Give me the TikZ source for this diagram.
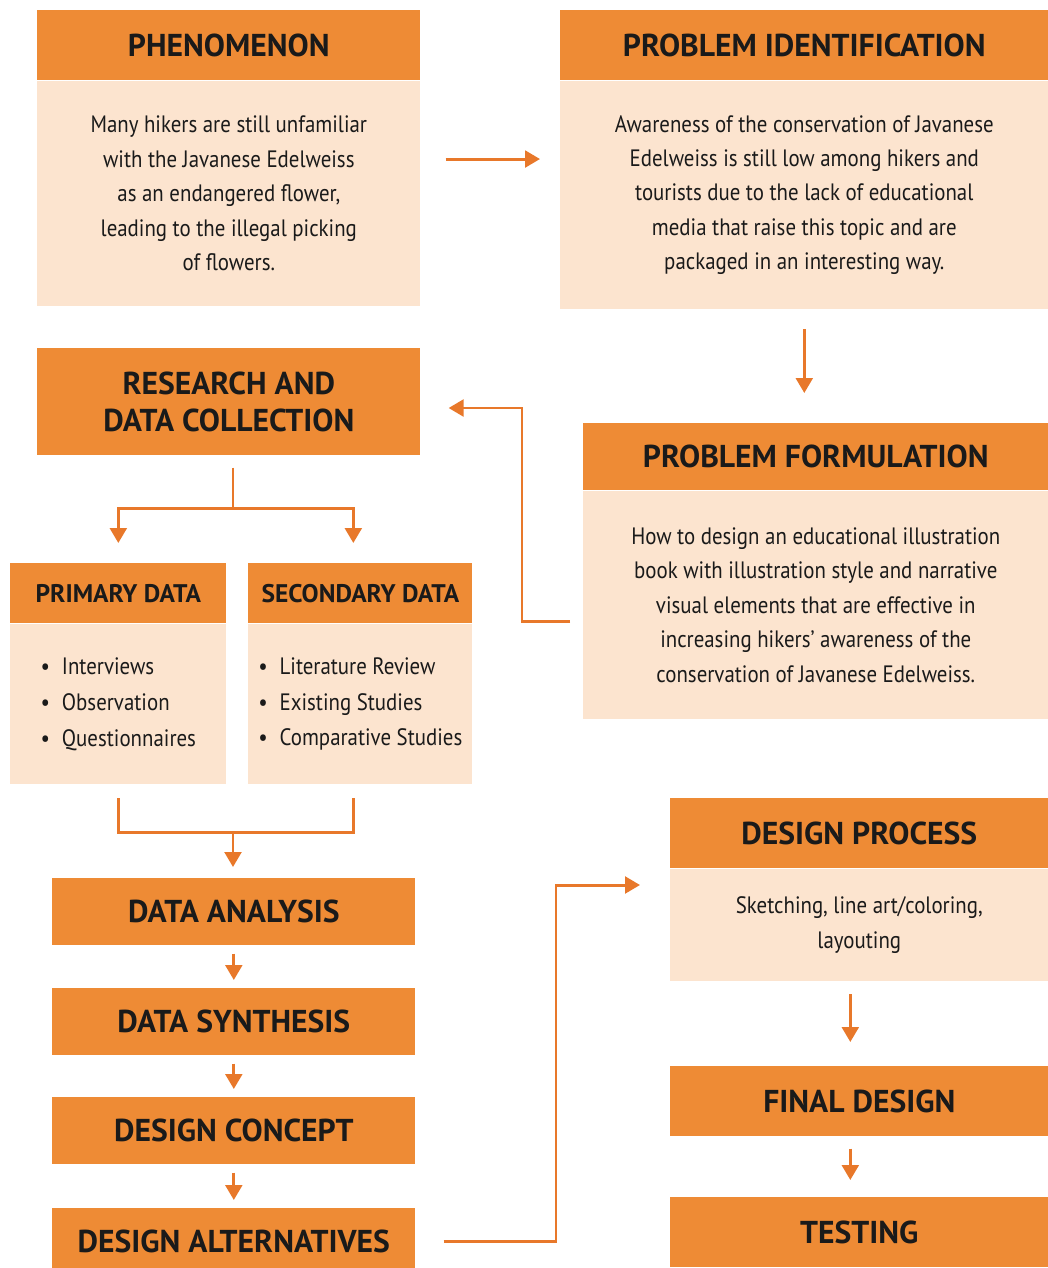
\documentclass[tikz,border=0pt]{standalone}
\usepackage{fontspec}
\setmainfont{PT Sans}
\newfontfamily\narrowsans{PT Sans}[FakeStretch=0.88]
\usetikzlibrary{arrows.meta,positioning}
\definecolor{hdrorange}{HTML}{EE8B35}
\definecolor{bodypeach}{HTML}{FCE4CF}
\definecolor{linkorange}{HTML}{E8782A}
\definecolor{inkblack}{HTML}{1A1A1A}

\begin{document}
\begin{tikzpicture}[x=0.02cm, y=-0.02cm,
  hdr/.style={fill=hdrorange, text=inkblack, inner sep=0pt, align=center,
              anchor=north west, font=\bfseries\fontsize{18}{21}\selectfont},
  subhdr/.style={hdr, font=\bfseries\fontsize{14.5}{17}\selectfont},
  body/.style={fill=bodypeach, text=inkblack, inner sep=0pt, align=center,
               font=\narrowsans\fontsize{13.5}{19.6}\selectfont},
  list/.style={body, align=left, font=\narrowsans\fontsize{13.5}{20.4}\selectfont},
  line/.style={draw=linkorange, line width=1.7pt},
  arrow/.style={line, -{Triangle[length=8.5pt,width=9.5pt]}},
  node distance=0pt
]
\useasboundingbox (0,0) rectangle (1048,1268);
\fill[white] (0,0) rectangle (1048,1268);

\node[hdr, minimum width=7.66cm, minimum height=1.4cm] (phenH) at (37,10) {PHENOMENON};
\node[body, below=of phenH, minimum width=7.66cm, minimum height=4.5cm] (phenB)
  {Many hikers are still unfamiliar\\with the Javanese Edelweiss\\as an endangered flower,\\leading to the illegal picking\\of flowers.};

\node[hdr, minimum width=9.76cm, minimum height=1.4cm] (pidH) at (560,10) {PROBLEM IDENTIFICATION};
\node[body, below=of pidH, minimum width=9.76cm, minimum height=4.56cm] (pidB)
  {Awareness of the conservation of Javanese\\Edelweiss is still low among hikers and\\tourists due to the lack of educational\\media that raise this topic and are\\packaged in an interesting way.};

\node[hdr, minimum width=7.66cm, minimum height=2.14cm] (rdcH) at (37,348) {RESEARCH AND\\DATA COLLECTION};

\node[hdr, minimum width=9.3cm, minimum height=1.34cm] (pfH) at (583,423) {PROBLEM FORMULATION};
\node[body, below=of pfH, minimum width=9.3cm, minimum height=4.56cm] (pfB)
  {How to design an educational illustration\\book with illustration style and narrative\\visual elements that are effective in\\increasing hikers’ awareness of the\\conservation of Javanese Edelweiss.};

\node[subhdr, minimum width=4.32cm, minimum height=1.2cm] (priH) at (10,563) {PRIMARY DATA};
\node[list, below=of priH, minimum width=4.32cm, minimum height=3.2cm] (priB)
  {\textbullet\enspace Interviews\\\textbullet\enspace Observation\\\textbullet\enspace Questionnaires};

\node[subhdr, minimum width=4.48cm, minimum height=1.2cm] (secH) at (248,563) {SECONDARY DATA};
\node[list, below=of secH, minimum width=4.48cm, minimum height=3.2cm] (secB)
  {\textbullet\enspace Literature Review\\\textbullet\enspace Existing Studies\\\textbullet\enspace Comparative Studies};

\node[hdr, minimum width=7.26cm, minimum height=1.34cm] (daH) at (52,878) {DATA ANALYSIS};
\node[hdr, minimum width=7.26cm, minimum height=1.34cm] (dsH) at (52,988) {DATA SYNTHESIS};
\node[hdr, minimum width=7.26cm, minimum height=1.34cm] (dcH) at (52,1097) {DESIGN CONCEPT};
\node[hdr, minimum width=7.26cm, minimum height=1.34cm] (altH) at (52,1208) {DESIGN ALTERNATIVES};

\node[hdr, minimum width=7.56cm, minimum height=1.4cm] (dpH) at (670,798) {DESIGN PROCESS};
\node[body, below=of dpH, minimum width=7.56cm, minimum height=2.24cm] (dpB)
  {Sketching, line art/coloring,\\layouting};
\node[hdr, minimum width=7.56cm, minimum height=1.4cm] (fdH) at (670,1066) {FINAL DESIGN};
\node[hdr, minimum width=7.56cm, minimum height=1.4cm] (testH) at (670,1197) {TESTING};

\coordinate (back) at (522,408);
\coordinate (split) at (233,508);
\coordinate (merge) at (233,832);
\coordinate (up) at (556,885);

\draw[arrow] ([xshift=0.5cm,yshift=0.69cm]phenB.east) -- ([xshift=-0.4cm,yshift=0.72cm]pidB.west);
\draw[arrow] ([yshift=-0.4cm]pidB.south) -- ([yshift=0.6cm]pidB.south |- pfH.north);
\draw[arrow] ([xshift=-0.26cm,yshift=-0.32cm]pfB.west) -| (back) -- ([xshift=0.56cm]back -| rdcH.east);

\draw[line] ([yshift=-0.24cm]split |- rdcH.south) -- (split);
\draw[arrow] (split) -| ([yshift=0.4cm]priH.north);
\draw[arrow] (split) -| ([xshift=-0.14cm,yshift=0.4cm]secH.north);

\draw[line] ([yshift=-0.28cm]priB.south) |- (merge) -| ([xshift=-0.14cm,yshift=-0.28cm]secB.south);
\draw[arrow] (merge) -- ([yshift=0.22cm]merge |- daH.north);

\foreach \a/\b in {daH/dsH, dsH/dcH, dcH/altH}
  \draw[arrow] ([yshift=-0.16cm]\a.south) -- ([yshift=0.16cm]\b.north);

\draw[arrow] ([xshift=0.56cm]altH.east) -| (up) -- ([xshift=-0.6cm]up -| dpB.west);
\draw[arrow] ([xshift=-0.18cm,yshift=-0.26cm]dpB.south) -- ([xshift=-0.18cm,yshift=0.48cm]fdH.north);
\draw[arrow] ([xshift=-0.18cm,yshift=-0.24cm]fdH.south) -- ([xshift=-0.18cm,yshift=0.34cm]testH.north);
\end{tikzpicture}
\end{document}
